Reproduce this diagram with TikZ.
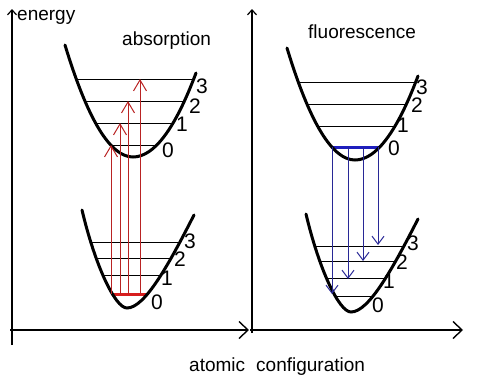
\documentclass[tikz,border=0pt]{standalone}
\usepackage{fontspec}
\setmainfont{Liberation Sans}
\usetikzlibrary{arrows.meta}
\definecolor{absline}{RGB}{185,35,35}
\definecolor{absthick}{RGB}{215,30,30}
\definecolor{fluline}{RGB}{40,40,150}
\definecolor{fluthick}{RGB}{30,30,190}
\newcommand\UpperWell{(-68,-112) .. controls (-45.3,-37.3) and (-22.7,0) .. (0,0) .. controls (21,0) and (42,-28) .. (63,-84)}
\newcommand\LowerWell{(-45,-98) .. controls (-32,-43) and (-12,0) .. (0,0) .. controls (18,0) and (42,-44) .. (67,-93)}
\tikzset{
  axis/.style={line width=2pt, line cap=butt},
  axhead/.style={-{Straight Barb[length=9pt,width=17pt,line width=1.4pt]}},
  axtop/.style={-{Straight Barb[length=5pt,width=9pt,line width=1.2pt]}},
  well/.style={line width=3pt, line cap=round},
  level/.style={line width=1pt, black},
  abslevel/.style={line width=3pt, absthick},
  flulevel/.style={line width=3pt, fluthick},
  absarrow/.style={line width=1pt, absline, -{Straight Barb[length=11pt,width=13pt,line width=1pt]}},
  fluarrow/.style={line width=1pt, fluline, -{Straight Barb[length=8pt,width=12pt,line width=1pt]}},
  word/.style={font=\fontsize{19}{20}\selectfont, inner sep=0pt, anchor=base west},
  digit/.style={font=\fontsize{21}{21}\selectfont, inner sep=0pt, anchor=center}
}
\begin{document}
\begin{tikzpicture}[x=1pt,y=-1pt]
\useasboundingbox (0,0) rectangle (500,380);
% axes
\coordinate (lyb) at (12,345); \coordinate (lyt) at (12,9);
\coordinate (lxl) at (10,330); \coordinate (lxr) at (249,330);
\coordinate (ryb) at (252,333); \coordinate (ryt) at (252,9);
\coordinate (rxl) at (250,330); \coordinate (rxr) at (463,330);
\draw[axis,axtop] (lyb) -- (lyt);
\draw[axis,axhead] (lxl) -- (lxr);
\draw[axis,axtop] (ryb) -- (ryt);
\draw[axis,axhead] (rxl) -- (rxr);
% upper left well
\begin{scope}[shift={(133,157)}]
  \begin{scope}
    \clip \UpperWell -- cycle;
    \foreach \d in {78,56,34,12} \draw[level] (-90,-\d) -- (90,-\d);
  \end{scope}
  \draw[well] \UpperWell;
\end{scope}
% lower left well
\begin{scope}[shift={(127,308)}]
  \begin{scope}
    \clip \LowerWell -- cycle;
    \foreach \d in {66,50,33} \draw[level] (-90,-\d) -- (90,-\d);
    \draw[abslevel] (-90,-14) -- (90,-14);
  \end{scope}
  \draw[well] \LowerWell;
\end{scope}
% upper right well
\begin{scope}[shift={(355,160)}]
  \begin{scope}
    \clip \UpperWell -- cycle;
    \foreach \d in {78,56,34} \draw[level] (-90,-\d) -- (90,-\d);
    \draw[flulevel] (-90,-13) -- (90,-13);
  \end{scope}
  \draw[well] \UpperWell;
\end{scope}
% lower right well
\begin{scope}[shift={(351,312)}]
  \begin{scope}
    \clip \LowerWell -- cycle;
    \foreach \d in {66,51,34,16} \draw[level] (-90,-\d) -- (90,-\d);
  \end{scope}
  \draw[well] \LowerWell;
\end{scope}
% absorption arrows
\coordinate (r0a) at (111,294); \coordinate (r0b) at (111,145);
\coordinate (r1a) at (120,294); \coordinate (r1b) at (120,123);
\coordinate (r2a) at (128,294); \coordinate (r2b) at (128,101);
\coordinate (r3a) at (140,294); \coordinate (r3b) at (140,79);
\draw[absarrow] (r0a) -- (r0b);
\draw[absarrow] (r1a) -- (r1b);
\draw[absarrow] (r2a) -- (r2b);
\draw[absarrow] (r3a) -- (r3b);
% fluorescence arrows
\coordinate (b0a) at (332,147); \coordinate (b0b) at (332,294);
\coordinate (b1a) at (348,147); \coordinate (b1b) at (348,279);
\coordinate (b2a) at (363,147); \coordinate (b2b) at (363,261);
\coordinate (b3a) at (378,147); \coordinate (b3b) at (378,245);
\draw[fluarrow] (b0a) -- (b0b);
\draw[fluarrow] (b1a) -- (b1b);
\draw[fluarrow] (b2a) -- (b2b);
\draw[fluarrow] (b3a) -- (b3b);
% texts
\node[word] (energy) at (17,20.5) {energy};
\node[word] (absorption) at (122,45) {absorption};
\node[word] (fluorescence) at (308,38) {fluorescence};
\node[word] (atomic) at (189,371) {atomic};
\node[word] (configuration) at (256,371) {configuration};
% level labels
\node[digit] (ul3) at (202,86) {3};
\node[digit] (ul2) at (195,106) {2};
\node[digit] (ul1) at (182,124) {1};
\node[digit] (ul0) at (168,150) {0};
\node[digit] (ll3) at (190,241) {3};
\node[digit] (ll2) at (180,259) {2};
\node[digit] (ll1) at (167,278) {1};
\node[digit] (ll0) at (157,302) {0};
\node[digit] (ur3) at (422,87) {3};
\node[digit] (ur2) at (417,105) {2};
\node[digit] (ur1) at (403,125) {1};
\node[digit] (ur0) at (394,148) {0};
\node[digit] (lr3) at (413,243) {3};
\node[digit] (lr2) at (402,262) {2};
\node[digit] (lr1) at (389,281) {1};
\node[digit] (lr0) at (378,305) {0};
\end{tikzpicture}
\end{document}
